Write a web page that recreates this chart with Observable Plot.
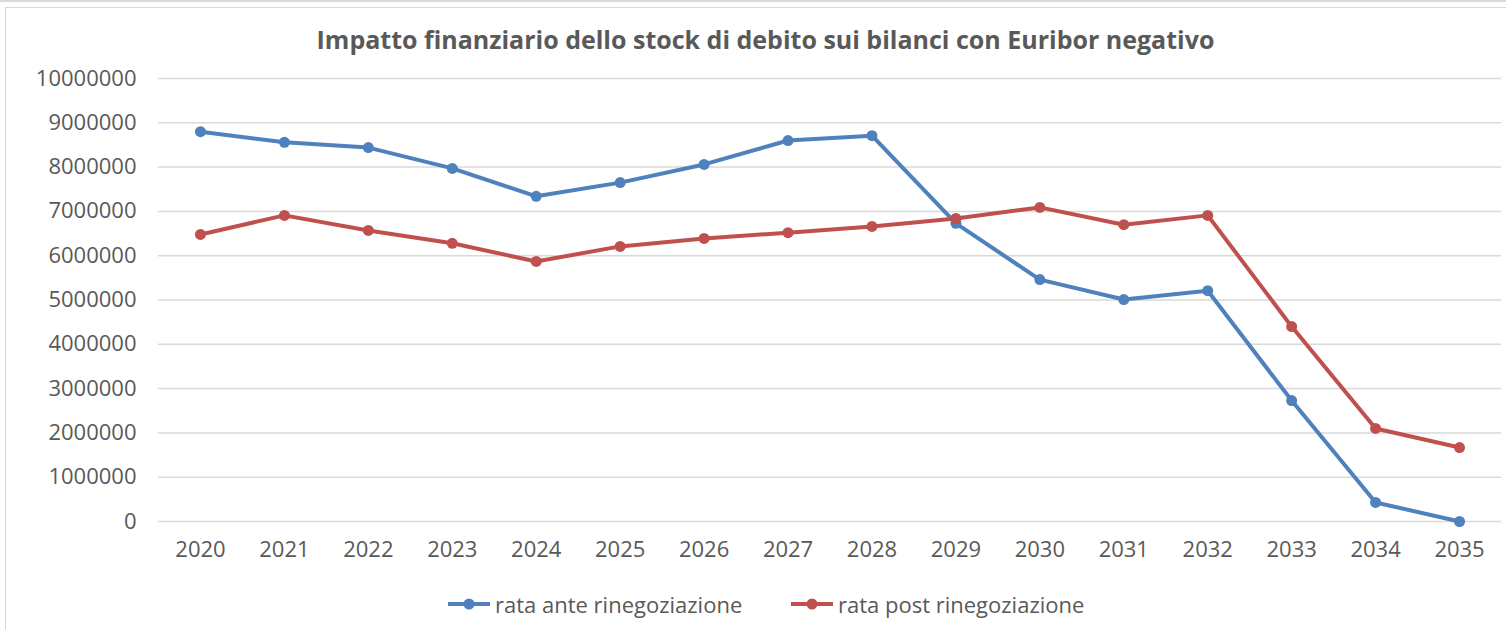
<!DOCTYPE html>
<html><head><meta charset="utf-8">
<script src="https://cdn.jsdelivr.net/npm/d3@7"></script>
<script src="https://cdn.jsdelivr.net/npm/@observablehq/plot@0.6"></script>
<style>
body{margin:0;background:#fff;font-family:"Open Sans",sans-serif;}
#wrap{position:relative;width:1506px;height:630px;overflow:hidden;background:#fff;}
#topline{position:absolute;left:0;top:0;width:1506px;height:2px;background:#d9d9d9;}
#frame{position:absolute;left:5px;top:7px;width:1530px;height:660px;border:1.5px solid #d9d9d9;box-sizing:border-box;}
#title{position:absolute;top:22px;left:0;width:1531px;text-align:center;font-weight:700;font-size:25px;color:#595959;white-space:nowrap;}
#chart{position:absolute;left:0;top:60px;}
#legend{position:absolute;top:589px;left:0;width:1506px;height:30px;}
.item{position:absolute;top:0;display:flex;align-items:center;font-size:22px;color:#595959;white-space:nowrap;}
.item svg{margin-right:4px;}
</style>
</head><body>
<div id="wrap">
<div id="topline"></div>
<div id="frame"></div>
<div id="title"></div>
<div id="chart"></div>
<div id="legend"></div>
</div>
<script>
const titleText = "Impatto finanziario dello stock di debito sui bilanci con Euribor negativo";
const years = ["2020","2021","2022","2023","2024","2025","2026","2027","2028","2029","2030","2031","2032","2033","2034","2035"];
const seriesNames = ["rata ante rinegoziazione", "rata post rinegoziazione"];
const seriesColors = ["#4f81bd", "#c0504d"];
const anteValues = [8800000, 8560000, 8440000, 7970000, 7340000, 7650000, 8060000, 8600000, 8710000, 6730000, 5460000, 5010000, 5210000, 2730000, 430000, 0];
const postValues = [6480000, 6910000, 6570000, 6280000, 5870000, 6210000, 6390000, 6520000, 6660000, 6840000, 7090000, 6700000, 6910000, 4400000, 2100000, 1670000];
const yTicks = [0,1000000,2000000,3000000,4000000,5000000,6000000,7000000,8000000,9000000,10000000];

document.getElementById("title").textContent = titleText;

const data = [];
years.forEach((y,i)=>{
  data.push({year:y, value:anteValues[i], series:seriesNames[0]});
  data.push({year:y, value:postValues[i], series:seriesNames[1]});
});

const chart = Plot.plot({
  width: 1506,
  height: 520,
  marginTop: 18,
  marginBottom: 59,
  marginLeft: 158,
  marginRight: 5,
  style: {fontFamily: '"Open Sans", sans-serif', background: "transparent", color: "#595959"},
  x: {type: "point", domain: years, padding: 0.5, round: false, label: null},
  y: {domain: [0, 10000000], label: null},
  color: {domain: seriesNames, range: seriesColors},
  marks: [
    Plot.ruleY(yTicks, {stroke: "#d9d9d9", strokeWidth: 1.5}),
    Plot.axisY({ticks: yTicks, tickSize: 0, tickPadding: 22, tickFormat: d3.format("d"), fontSize: 22, fill: "#595959"}),
    Plot.axisX({tickSize: 0, tickPadding: 20, fontSize: 22, fill: "#595959"}),
    Plot.line(data, {x: "year", y: "value", z: "series", stroke: "series", strokeWidth: 4, strokeLinejoin: "round"}),
    Plot.dot(data, {x: "year", y: "value", fill: "series", r: 5.5, stroke: null})
  ]
});
document.getElementById("chart").appendChild(chart);

const legend = document.getElementById("legend");
const legendLefts = [447, 790];
seriesNames.forEach((name, i) => {
  const div = document.createElement("div");
  div.className = "item";
  div.style.left = legendLefts[i] + "px";
  div.innerHTML = `<svg width="44" height="30"><line x1="1" x2="43" y1="15" y2="15" stroke="${seriesColors[i]}" stroke-width="4"/><circle cx="22" cy="15" r="5.5" fill="${seriesColors[i]}"/></svg>`;
  const span = document.createElement("span");
  span.textContent = name;
  div.appendChild(span);
  legend.appendChild(div);
});
</script>
</body></html>
